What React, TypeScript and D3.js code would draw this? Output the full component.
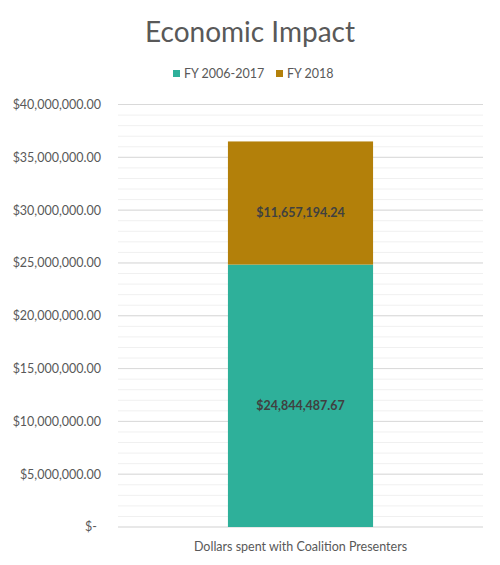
import * as d3 from 'd3'

const categories = ['Dollars spent with Coalition Presenters']
const seriesNames = ['FY 2006-2017', 'FY 2018']
const seriesValues = [[24844487.67], [11657194.24]]
const seriesColors = ['#2EB09A', '#B3800A']
const yTicks = [0, 5000000, 10000000, 15000000, 20000000, 25000000, 30000000, 35000000, 40000000]

const W = 500
const H = 565
const font = 'Lato, "Open Sans", sans-serif'

const fmt = (v: number) => (v === 0 ? '$-' : '$' + d3.format(',.2f')(v))

export default function App() {
  const x = d3.scaleBand().domain(categories).range([118, 483]).padding(0.431)
  const y = d3.scaleLinear().domain([0, 40000000]).range([527, 104.5])
  const minor = d3.range(0, 40000001, 1000000)

  const stacked = categories.map((c, i) => {
    let acc = 0
    return seriesValues.map((vals, s) => {
      const y0 = acc
      acc += vals[i]
      return { c, s, y0, y1: acc, v: vals[i] }
    })
  })

  return (
    <svg width={W} height={H} style={{ display: 'block', margin: -8, fontFamily: font }}>
      <rect width={W} height={H} fill="#fff" />
      <text x={250} y={42} textAnchor="middle" fontSize={28} fill="#595959">
        Economic Impact
      </text>
      {/* legend */}
      <g fontSize={12.5} fill="#595959">
        <rect x={173} y={70} width={7} height={7} fill={seriesColors[0]} />
        <text x={184} y={78}>{seriesNames[0]}</text>
        <rect x={276} y={70} width={7} height={7} fill={seriesColors[1]} />
        <text x={287} y={78}>{seriesNames[1]}</text>
      </g>
      {minor.map((t) => (
        <line key={'m' + t} x1={118} x2={483} y1={y(t)} y2={y(t)} stroke="#f0f0f0" strokeWidth={1} />
      ))}
      {yTicks.map((t) => (
        <g key={t}>
          <line x1={118} x2={483} y1={y(t)} y2={y(t)} stroke="#d9d9d9" strokeWidth={1} />
          <text
            x={t === 0 ? 97 : 101}
            y={y(t)}
            dy="0.35em"
            textAnchor="end"
            fontSize={12.5}
            fill="#595959"
          >
            {fmt(t)}
          </text>
        </g>
      ))}
      {stacked.flat().map((d) => (
        <g key={d.c + d.s}>
          <rect
            x={x(d.c)!}
            width={x.bandwidth()}
            y={y(d.y1)}
            height={y(d.y0) - y(d.y1)}
            fill={seriesColors[d.s]}
          />
          <text
            x={x(d.c)! + x.bandwidth() / 2}
            y={(y(d.y0) + y(d.y1)) / 2 + 10}
            dy="0.35em"
            textAnchor="middle"
            fontSize={12.5}
            fontWeight="bold"
            fill="#404040"
          >
            {fmt(d.v)}
          </text>
        </g>
      ))}
      {categories.map((c) => (
        <text key={c} x={x(c)! + x.bandwidth() / 2} y={551} textAnchor="middle" fontSize={12.5} fill="#595959">
          {c}
        </text>
      ))}
    </svg>
  )
}
